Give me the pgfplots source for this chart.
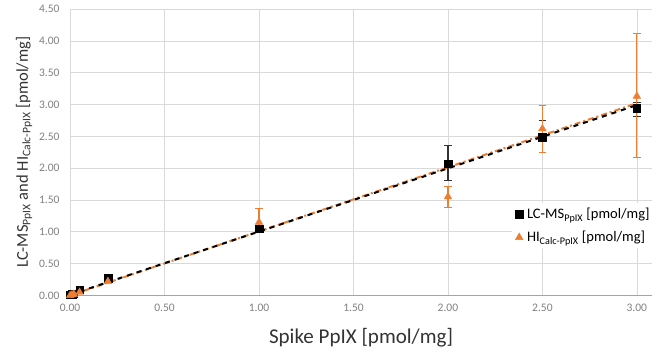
\documentclass[border=0pt]{standalone}
\usepackage{pgfplots}
\pgfplotsset{compat=1.18}
\usepackage{fontspec}
\setmainfont{Carlito}
\definecolor{exor}{HTML}{ED7D31}
\definecolor{gridc}{HTML}{D9D9D9}
\definecolor{tickc}{HTML}{7F7F7F}
\begin{document}
\begin{tikzpicture}
\begin{axis}[
  scale only axis,
  width=581pt, height=286pt,
  xmin=0, xmax=3.08, ymin=0, ymax=4.5,
  xtick={0,0.5,1,1.5,2,2.5,3},
  ytick={0,0.5,1,1.5,2,2.5,3,3.5,4,4.5},
  /pgf/number format/assume math mode=true,
  xticklabel style={/pgf/number format/.cd,fixed,fixed zerofill,precision=2,/tikz/.cd,yshift=-5pt},
  yticklabel style={/pgf/number format/.cd,fixed,fixed zerofill,precision=2,/tikz/.cd,xshift=-7pt},
  tick label style={font=\fontsize{11.5}{13}\selectfont, text=tickc},
  major tick length=0pt,
  grid=major,
  major grid style={gridc, line width=0.6pt},
  axis x line*=bottom, axis y line*=left,
  x axis line style={tickc!70, line width=0.8pt, -},
  y axis line style={gridc, line width=0.6pt, -},
  xlabel={Spike PpIX [pmol/mg]},
  ylabel={LC-MS\textsubscript{PpIX} and HI\textsubscript{Calc-PpIX} [pmol/mg]},
  xlabel style={font=\fontsize{21}{24}\selectfont, text=black!80, yshift=-10pt},
  ylabel style={font=\fontsize{16.5}{19}\selectfont, text=black!80, yshift=0pt},
  legend style={at={(axis cs:2.34,1.45)}, anchor=north west, draw=none, fill=white,
    font=\fontsize{14.5}{17}\selectfont, row sep=7pt, inner sep=3pt,
    nodes={inner xsep=4pt}},
  legend cell align=left,
]
% trend lines
\addplot[exor, line width=2pt, dash pattern=on 6pt off 3pt on 2pt off 3pt, forget plot] coordinates {(0,0.0) (3,3.02)};
\addplot[black, line width=2pt, dash pattern=on 5pt off 5pt, forget plot] coordinates {(0,0.01) (3,2.99)};
% LC-MS
\addplot[only marks, mark=square*, mark size=3.8pt, black,
  error bars/.cd, y dir=both, y explicit, error bar style={black!80, line width=1.1pt}, error mark options={rotate=90, mark size=3.8pt, black!80, line width=1.1pt}]
  coordinates {
  (0,0.01) += (0,0.01) -= (0,0.01)
  (0.01,0.02) += (0,0.01) -= (0,0.01)
  (0.02,0.03) += (0,0.01) -= (0,0.01)
  (0.05,0.09) += (0,0.01) -= (0,0.01)
  (0.2,0.27) += (0,0.02) -= (0,0.02)
  (1.0,1.05) += (0,0.03) -= (0,0.03)
  (2.0,2.07) += (0,0.28) -= (0,0.26)
  (2.5,2.49) += (0,0.26) -= (0,0.25)
  (3.0,2.94) += (0,0.09) -= (0,0.13)
  };
\addlegendentry{LC-MS\textsubscript{PpIX} [pmol/mg]}
% HI
\addplot[only marks, mark=triangle*, mark size=4.4pt, exor,
  error bars/.cd, y dir=both, y explicit, error bar style={exor, line width=1.1pt}, error mark options={rotate=90, mark size=3.8pt, exor, line width=1.1pt}]
  coordinates {
  (0,0.0) += (0,0.01) -= (0,0.0)
  (0.01,0.01) += (0,0.01) -= (0,0.01)
  (0.02,0.02) += (0,0.01) -= (0,0.01)
  (0.05,0.05) += (0,0.01) -= (0,0.01)
  (0.2,0.22) += (0,0.02) -= (0,0.02)
  (1.0,1.15) += (0,0.21) -= (0,0.15)
  (2.0,1.55) += (0,0.16) -= (0,0.17)
  (2.5,2.62) += (0,0.37) -= (0,0.37)
  (3.0,3.13) += (0,0.98) -= (0,0.96)
  };
\addlegendentry{HI\textsubscript{Calc-PpIX} [pmol/mg]}
\end{axis}
\path (current axis.south east) ++(8pt,-61pt) circle (0.01pt);
\path (current axis.north west) ++(-70pt,9pt) circle (0.01pt);
\end{tikzpicture}
\end{document}
